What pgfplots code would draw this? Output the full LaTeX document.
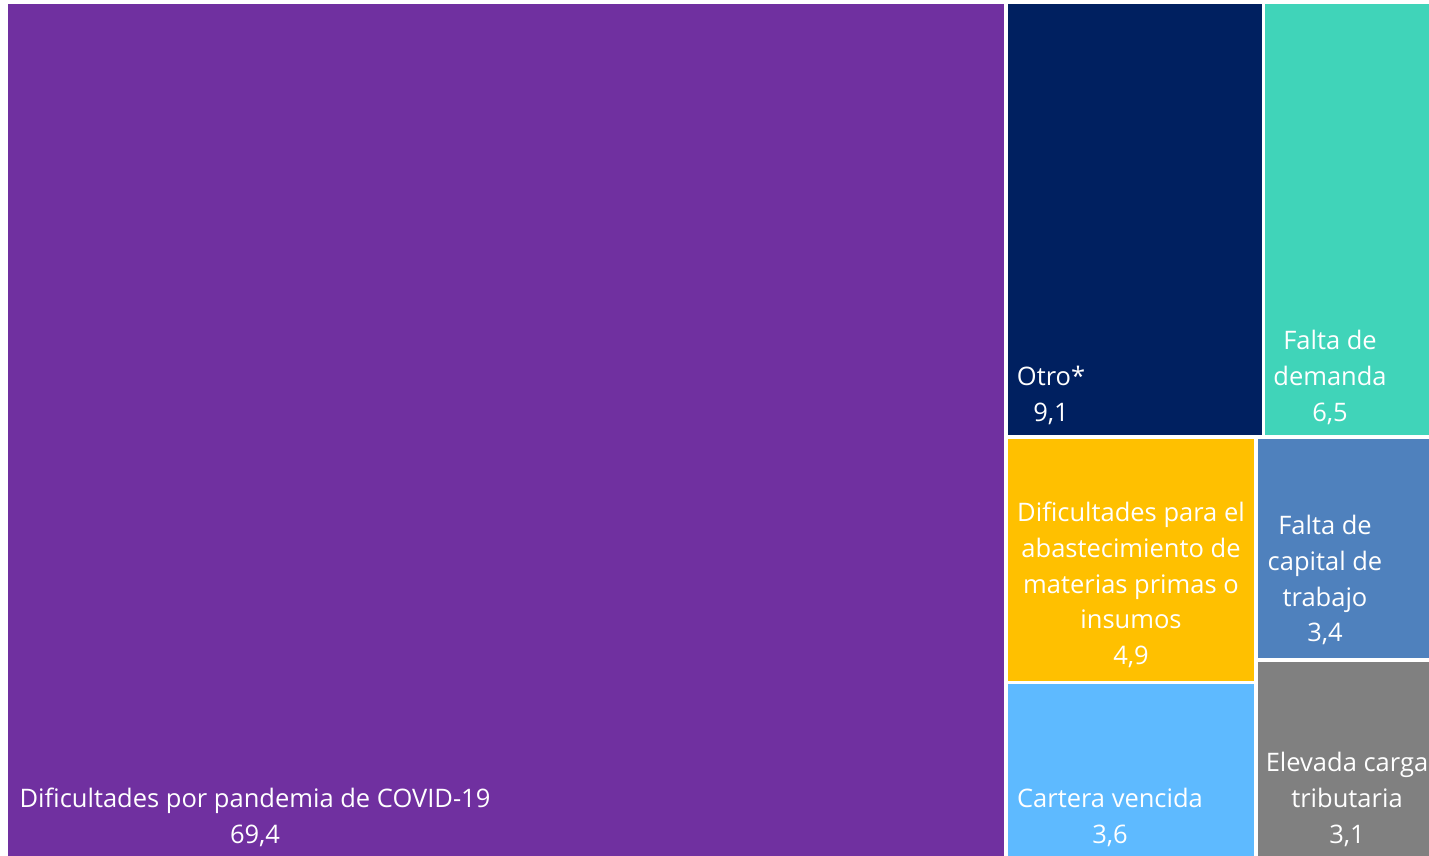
\documentclass[border=0pt]{standalone}
\usepackage{fontspec}
\setmainfont{Open Sans}
\usepackage{pgfplots}
\pgfplotsset{compat=1.18}

\definecolor{cPurple}{HTML}{7030A0}
\definecolor{cNavy}{HTML}{002060}
\definecolor{cTeal}{HTML}{40D4B9}
\definecolor{cGold}{HTML}{FFC000}
\definecolor{cSteel}{HTML}{4F81BD}
\definecolor{cSky}{HTML}{5EBAFF}
\definecolor{cGray}{HTML}{808080}

\begin{document}
\begin{tikzpicture}
\begin{axis}[
  width=1429pt, height=856pt, scale only axis,
  xmin=0, xmax=1429, ymin=0, ymax=856,
  y dir=reverse, hide axis, clip=false,
  every axis plot/.append style={draw=none},
]
% tiles (pixel rectangles, areas follow the shares)
\addplot[fill=cPurple] coordinates {(8,4) (1004,4) (1004,856) (8,856)} -- cycle;
\addplot[fill=cNavy]   coordinates {(1008,4) (1262,4) (1262,435) (1008,435)} -- cycle;
\addplot[fill=cTeal]   coordinates {(1265,4) (1429,4) (1429,435) (1265,435)} -- cycle;
\addplot[fill=cGold]   coordinates {(1008,439) (1254,439) (1254,681) (1008,681)} -- cycle;
\addplot[fill=cSteel]  coordinates {(1258,439) (1429,439) (1429,658) (1258,658)} -- cycle;
\addplot[fill=cSky]    coordinates {(1008,684) (1254,684) (1254,856) (1008,856)} -- cycle;
\addplot[fill=cGray]   coordinates {(1258,662) (1429,662) (1429,856) (1258,856)} -- cycle;

\tikzset{lab/.style={anchor=base, text=white, inner sep=0pt,
  font=\fontsize{25.5}{36}\selectfont}}
\node[lab] at (axis cs:255,807) {Dificultades por pandemia de COVID-19};
\node[lab] at (axis cs:255,843) {69,4};

\node[lab] at (axis cs:1051,385) {Otro*};
\node[lab] at (axis cs:1051,421) {9,1};

\node[lab] at (axis cs:1330,349) {Falta de};
\node[lab] at (axis cs:1330,385) {demanda};
\node[lab] at (axis cs:1330,421) {6,5};

\node[lab] at (axis cs:1131,521) {Dificultades para el};
\node[lab] at (axis cs:1131,557) {abastecimiento de};
\node[lab] at (axis cs:1131,593) {materias primas o};
\node[lab] at (axis cs:1131,628) {insumos};
\node[lab] at (axis cs:1131,664) {4,9};

\node[lab] at (axis cs:1325,534) {Falta de};
\node[lab] at (axis cs:1325,570) {capital de};
\node[lab] at (axis cs:1325,606) {trabajo};
\node[lab] at (axis cs:1325,641) {3,4};

\node[lab] at (axis cs:1110,807) {Cartera vencida};
\node[lab] at (axis cs:1110,843) {3,6};

\node[lab] at (axis cs:1347,771) {Elevada carga};
\node[lab] at (axis cs:1347,807) {tributaria};
\node[lab] at (axis cs:1347,843) {3,1};
\end{axis}
\pgfresetboundingbox
\path (0,0) rectangle (1429pt,856pt);
\end{tikzpicture}
\end{document}
